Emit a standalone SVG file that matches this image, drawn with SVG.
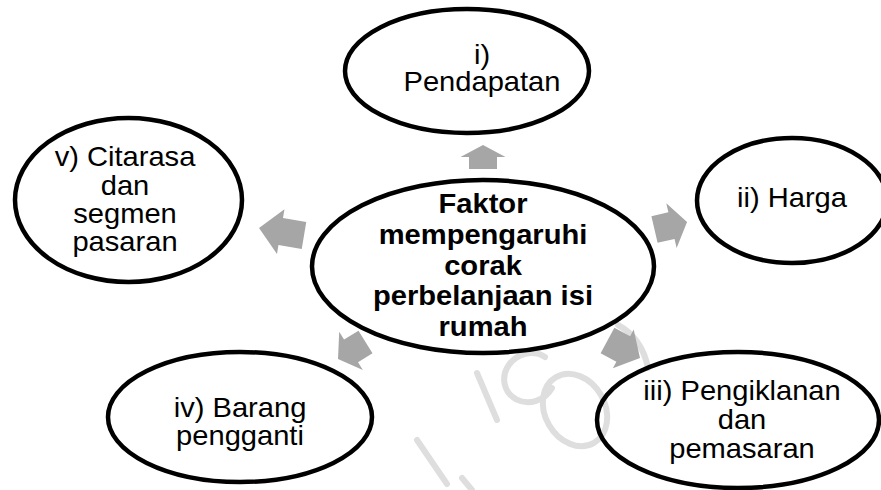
<svg xmlns="http://www.w3.org/2000/svg" width="881" height="490" viewBox="0 0 881 490">
<style>
.bg{fill:#fff}
.wm{fill:none;stroke:#dedede;stroke-width:6;stroke-linecap:round}
.node{fill:none;stroke:#000;stroke-width:4.5}
.arr{fill:#a6a6a6}
.t{font-family:"Liberation Sans",Arial,sans-serif;font-size:28px;fill:#000;text-anchor:middle}
.b{font-weight:bold}
</style>
<rect class="bg" x="0" y="0" width="881" height="490"/>
<g id="watermark">
<path class="wm" d="M477,373 L497,420"/>
<path class="wm" d="M545,357 A26,24 -30 1 0 552,388"/>
<ellipse class="wm" cx="575" cy="410" rx="30" ry="38" transform="rotate(-30 575 410)"/>
<path class="wm" d="M618,325 Q642,338 648,368"/>
<path class="wm" d="M417,440 L447,484"/>
<path class="wm" d="M462,478 L472,490"/>
</g>
<g id="connectors">
<polygon class="arr" transform="translate(483,169) rotate(-90)" points="0,-14 12,-14 12,-22.5 24,0 12,22.5 12,14 0,14"/>
<polygon class="arr" transform="translate(304,235.5) rotate(189.5)" points="0,-13.7 23.6,-13.7 23.6,-22.7 45.6,0 23.6,22.7 23.6,13.7 0,13.7"/>
<polygon class="arr" transform="translate(654.5,229.5) rotate(-13)" points="0,-13.7 17.4,-13.7 17.4,-23 33.4,0 17.4,23 17.4,13.7 0,13.7"/>
<polygon class="arr" transform="translate(365.5,342) rotate(148.3)" points="0,-13.3 17,-13.3 17,-22.5 32.3,0 17,22.5 17,13.3 0,13.3"/>
<polygon class="arr" transform="translate(607.5,340.5) rotate(28.3)" points="0,-14.5 17.9,-14.5 17.9,-22 36.9,0 17.9,22 17.9,14.5 0,14.5"/>
</g>
<g id="center">
<ellipse class="node" cx="483" cy="266.5" rx="171" ry="86.5"/>
<g transform="translate(483 0) scale(1.04 1)">
<text class="t b" x="0" y="213">Faktor</text>
<text class="t b" x="0" y="244">mempengaruhi</text>
<text class="t b" x="0" y="275">corak</text>
<text class="t b" x="0" y="305">perbelanjaan isi</text>
<text class="t b" x="0" y="336">rumah</text>
</g>
</g>
<g id="n1">
<ellipse class="node" cx="467" cy="71" rx="122" ry="62"/>
<g transform="translate(482 0) scale(1.04 1)">
<text class="t" x="0" y="64">i)</text>
<text class="t" x="0" y="91">Pendapatan</text>
</g>
</g>
<g id="n2">
<ellipse class="node" cx="792" cy="200.5" rx="95" ry="62.5"/>
<g transform="translate(792 0) scale(1.04 1)">
<text class="t" x="0" y="207">ii) Harga</text>
</g>
</g>
<g id="n3">
<ellipse class="node" cx="738" cy="420" rx="141" ry="68"/>
<g transform="translate(742 0) scale(1.04 1)">
<text class="t" x="0" y="400">iii) Pengiklanan</text>
<text class="t" x="0" y="429">dan</text>
<text class="t" x="0" y="458">pemasaran</text>
</g>
</g>
<g id="n4">
<ellipse class="node" cx="240" cy="417" rx="132" ry="65"/>
<g transform="translate(240 0) scale(1.04 1)">
<text class="t" x="0" y="417">iv) Barang</text>
<text class="t" x="0" y="445">pengganti</text>
</g>
</g>
<g id="n5">
<ellipse class="node" cx="128.5" cy="200" rx="113.5" ry="82"/>
<g transform="translate(125 0) scale(1.04 1)">
<text class="t" x="0" y="166">v) Citarasa</text>
<text class="t" x="0" y="195">dan</text>
<text class="t" x="0" y="223">segmen</text>
<text class="t" x="0" y="251">pasaran</text>
</g>
</g>
</svg>
